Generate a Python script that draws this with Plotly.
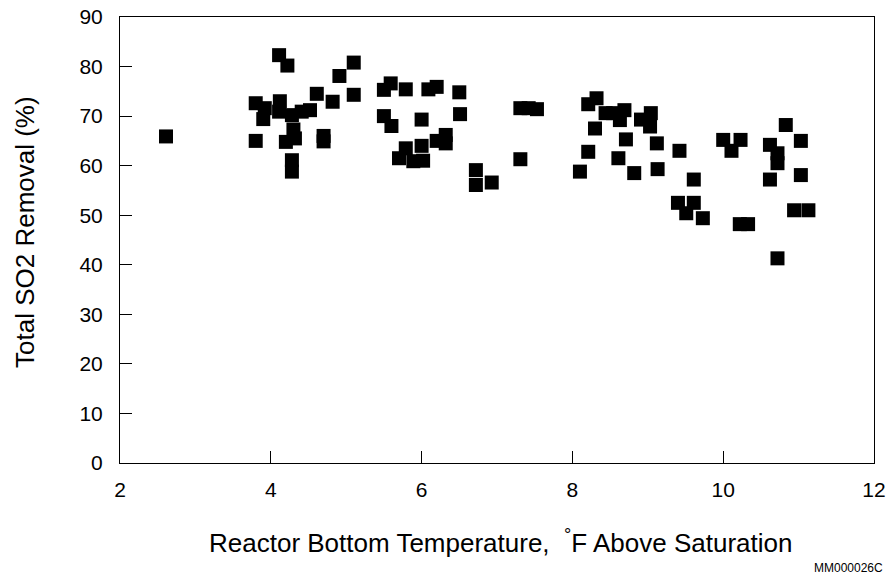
import plotly.graph_objects as go

# Reactor bottom temperature (deg F above saturation)
temp = [
    2.61, 3.80, 3.92, 3.90, 3.80, 4.11, 4.22, 4.12, 4.11, 4.28,
    4.41, 4.52, 4.61, 4.30, 4.20, 4.32, 4.28, 4.28, 4.70, 4.70,
    4.82, 4.91, 5.10, 5.10,
    5.50, 5.59, 5.79, 6.09, 6.20, 6.50, 5.50, 5.60, 6.00, 6.51,
    5.79, 5.70, 5.89, 6.02, 6.00, 6.20, 6.32, 6.32, 6.72, 6.72,
    6.93, 7.31, 7.42, 7.53, 7.31, 8.10,
    8.21, 8.32, 8.44, 8.54, 8.63, 8.69, 8.91, 9.04, 9.03, 8.30,
    8.71, 9.12, 8.21, 8.61, 8.82, 9.13, 9.42, 9.61, 10.00, 10.11,
    9.40, 9.61, 9.51, 9.73,
    10.83, 10.23, 10.62, 10.72, 10.72, 11.03, 10.62, 11.03, 10.94, 11.13,
    10.22, 10.33, 10.72,
]

# Total SO2 removal (%)
removal = [
    65.9, 72.6, 71.6, 69.4, 65.0, 82.3, 80.2, 73.0, 70.9, 70.2,
    70.9, 71.2, 74.5, 67.3, 64.8, 65.5, 61.1, 58.8, 66.0, 64.9,
    72.9, 78.1, 80.8, 74.3,
    75.3, 76.6, 75.4, 75.4, 75.9, 74.8, 70.0, 68.0, 69.3, 70.4,
    63.5, 61.5, 60.9, 61.0, 64.0, 65.0, 66.2, 64.5, 59.1, 56.1,
    56.6, 71.6, 71.6, 71.4, 61.3, 58.8,
    72.4, 73.6, 70.6, 70.6, 69.2, 71.2, 69.3, 70.6, 67.9, 67.5,
    65.3, 64.5, 62.8, 61.5, 58.5, 59.3, 63.0, 57.2, 65.2, 63.0,
    52.5, 52.5, 50.4, 49.4,
    68.2, 65.2, 64.2, 62.5, 60.5, 65.0, 57.2, 58.1, 51.0, 51.0,
    48.2, 48.2, 41.3,
]

x_ticks = [2, 4, 6, 8, 10, 12]
y_ticks = [0, 10, 20, 30, 40, 50, 60, 70, 80, 90]

FONT = "Liberation Sans, Arial, sans-serif"

fig = go.Figure(
    go.Scatter(
        x=temp, y=removal, mode="markers",
        marker=dict(symbol="square", size=14, color="black",
                    line=dict(width=0)),
        showlegend=False,
    )
)

axis_common = dict(
    showgrid=False, zeroline=False, showline=True, mirror=True,
    linecolor="black", linewidth=1, ticks="inside", ticklen=12,
    tickcolor="black", tickwidth=1, ticklabeloverflow="allow",
    automargin=False,
    tickfont=dict(family=FONT, size=21, color="black"),
)

fig.update_xaxes(range=[2, 12], tickvals=x_ticks, ticklabelstandoff=8,
                 **axis_common)
fig.update_yaxes(range=[0, 90], tickvals=y_ticks, ticklabelstandoff=12,
                 **axis_common)

fig.update_layout(
    width=879, height=567,
    margin=dict(l=112, r=13, t=9, b=112, autoexpand=False),
    plot_bgcolor="white", paper_bgcolor="white",
    font=dict(family=FONT, color="black"),
    annotations=[
        dict(text="Reactor Bottom Temperature,&nbsp; <sup>°</sup>F Above Saturation",
             xref="paper", yref="paper", x=0.5, y=0,
             xanchor="center", yanchor="middle", yshift=-78, xshift=3,
             showarrow=False, font=dict(family=FONT, size=26, color="black")),
        dict(text="Total SO2 Removal (%)",
             xref="paper", yref="paper", x=0, y=0.5,
             xanchor="center", yanchor="middle", xshift=-95, yshift=8,
             textangle=-90, showarrow=False,
             font=dict(family=FONT, size=26, color="black")),
        dict(text="MM000026C",
             xref="paper", yref="paper", x=1, y=0,
             xanchor="right", yanchor="middle", xshift=11, yshift=-105,
             showarrow=False, font=dict(family=FONT, size=12, color="black")),
    ],
)

fig.write_html("out.html")
